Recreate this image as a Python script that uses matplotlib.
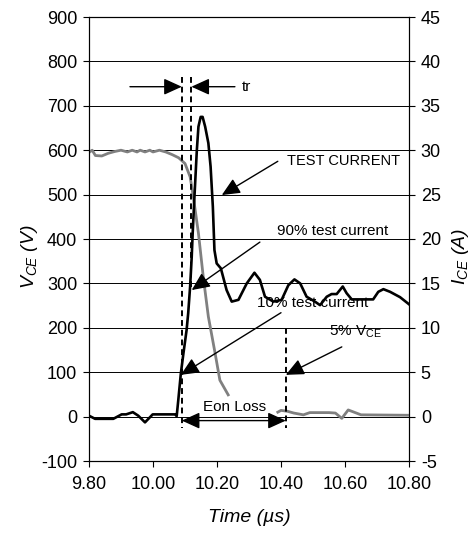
import matplotlib
matplotlib.use("Agg")
import matplotlib.pyplot as plt

plt.rcParams['font.family'] = ['Liberation Sans', 'DejaVu Sans']
plt.rcParams['mathtext.fontset'] = 'custom'
plt.rcParams['mathtext.rm'] = 'Liberation Sans'
plt.rcParams['mathtext.it'] = 'Liberation Sans:italic'
plt.rcParams['axes.unicode_minus'] = False

# VCE (gray, left axis, volts) - turn-on part and tail part
vce_t1 = [9.80, 9.81, 9.82, 9.84, 9.86, 9.88, 9.90, 9.92, 9.935, 9.95, 9.96, 9.975,
          9.99, 10.00, 10.02, 10.04, 10.06, 10.08, 10.10, 10.116, 10.126, 10.142,
          10.157, 10.173, 10.194, 10.209, 10.235]
vce_v1 = [595, 600, 588, 587, 593, 597, 600, 596, 600, 596, 600, 596,
          600, 596, 600, 596, 590, 583, 570, 540, 495, 413,
          315, 225, 143, 82, 49]
vce_t2 = [10.39, 10.40, 10.42, 10.44, 10.47, 10.49, 10.55, 10.57, 10.59, 10.61, 10.65, 10.80]
vce_v2 = [10, 14, 12, 8, 4, 9, 9, 8, -4, 15, 4, 3]

# test current (black, right axis), read in volt-scale units then /20 -> A
ice_t = [9.80, 9.819, 9.876, 9.902, 9.916, 9.937, 9.954, 9.975, 9.999, 10.069, 10.074,
         10.079, 10.087, 10.095, 10.105, 10.110, 10.116, 10.121, 10.124, 10.129, 10.137,
         10.142, 10.149, 10.155, 10.163, 10.173, 10.18, 10.187, 10.192, 10.199, 10.212,
         10.23, 10.246, 10.267, 10.293, 10.317, 10.334, 10.35, 10.376, 10.402, 10.423,
         10.442, 10.46, 10.48, 10.506, 10.522, 10.543, 10.558, 10.574, 10.593, 10.605,
         10.621, 10.688, 10.704, 10.72, 10.741, 10.772, 10.80]
ice_vscale = [2, -5, -5, 5, 5, 10, 2, -13, 5, 5, 1,
              37, 97, 142, 195, 233, 293, 360, 413, 488, 600,
              653, 675, 675, 653, 616, 563, 473, 375, 345, 334,
              285, 259, 263, 300, 324, 308, 270, 259, 263, 296,
              309, 300, 270, 259, 251, 270, 276, 276, 293, 278,
              264, 264, 281, 287, 281, 269, 253]
ice_a = [v / 20.0 for v in ice_vscale]

x_ticks = [9.80, 10.00, 10.20, 10.40, 10.60, 10.80]

# marker lines (time, top V, bottom V)
t_10pct = 10.09
t_90pct = 10.12
t_5pct = 10.415

fig = plt.figure(figsize=(4.77, 5.33), dpi=100)
ax = fig.add_axes([89 / 477, 1 - 461 / 533, 320 / 477, 444 / 533])
ax2 = ax.twinx()

ax.set_xlim(9.80, 10.80)
ax.set_ylim(-100, 900)
ax.set_yticks(range(-100, 901, 100))
ax.set_xticks(x_ticks)
ax.set_xticklabels(['%.2f' % t for t in x_ticks])
ax2.set_ylim(-5, 45)
ax2.set_yticks(range(-5, 46, 5))

ax.yaxis.grid(True, color='black', lw=0.7)
ax.set_axisbelow(True)
for a in (ax, ax2):
    for s in a.spines.values():
        s.set_linewidth(0.8)
        s.set_color('black')
    a.tick_params(labelsize=13, length=4.5, width=0.8, direction='out', pad=4)
ax.tick_params(axis='x', pad=6)

ax.plot(vce_t1, vce_v1, color='#808080', lw=2.0, zorder=3)
ax.plot(vce_t2, vce_v2, color='#808080', lw=2.0, zorder=3)
ax2.plot(ice_t, ice_a, color='black', lw=1.9, zorder=3)

dash = (0, (3, 2))
ax.plot([t_10pct, t_10pct], [765, -25], color='black', lw=1.4, ls=dash, zorder=4)
ax.plot([t_90pct, t_90pct], [765, 285], color='black', lw=1.4, ls=dash, zorder=4)
ax.plot([t_5pct, t_5pct], [200, -25], color='black', lw=1.4, ls=dash, zorder=4)

fs = 11
ax.text(10.277, 743, 'tr', fontsize=fs, va='center', ha='left')
ax.text(10.418, 575, 'TEST CURRENT', fontsize=10.5, va='center', ha='left')
ax.text(10.387, 418, '90% test current', fontsize=fs, va='center', ha='left')
ax.text(10.324, 256, '10% test current', fontsize=fs, va='center', ha='left', zorder=1)
ax.text(10.55, 191, r'5% V$_{\rm CE}$', fontsize=fs, va='center', ha='left')
ax.text(10.256, 22, 'Eon Loss', fontsize=fs, va='center', ha='center')

head = dict(arrowstyle='-|>,head_length=11,head_width=5', mutation_scale=1,
            color='black', lw=1, shrinkA=0, shrinkB=0)
arrows = [((9.928, 743), (t_10pct, 743)),
          ((10.256, 743), (t_90pct, 743)),
          ((10.39, 575), (10.215, 499)),
          ((10.334, 393), (10.121, 285)),
          ((10.40, 234), (10.087, 94)),
          ((10.59, 157), (10.415, 94))]
for tail, tip in arrows:
    ax2.annotate('', xy=tip, xytext=tail, xycoords=ax.transData,
                 textcoords=ax.transData, arrowprops=head)
ax2.annotate('', xy=(t_5pct, -9), xytext=(t_10pct, -9), xycoords=ax.transData,
             textcoords=ax.transData,
             arrowprops=dict(head, arrowstyle='<|-|>,head_length=11,head_width=5'))

ax.set_xlabel('Time (µs)', fontsize=14, style='italic', labelpad=12)
ax.set_ylabel(r'$V_{CE}$ (V)', fontsize=14, style='italic', va='center')
ax2.set_ylabel(r'$I_{CE}$ (A)', fontsize=14, style='italic', va='center', rotation=90)
ax.yaxis.set_label_coords(-0.185, 0.46)
ax2.yaxis.set_label_coords(1.16, 0.46)

fig.savefig('out.png', dpi=100)
